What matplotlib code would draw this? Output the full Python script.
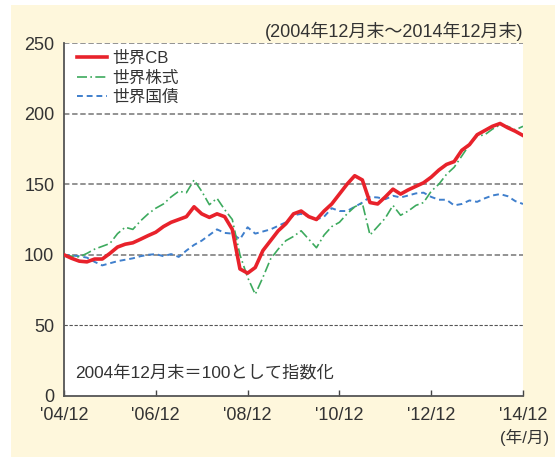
import numpy as np
import matplotlib
matplotlib.use("Agg")
import matplotlib.pyplot as plt
from matplotlib.patches import Rectangle

FONT = ['Liberation Sans', 'Noto Sans CJK JP', 'DejaVu Sans']
plt.rcParams['font.family'] = FONT

# bi-monthly points from Dec 2004 to Dec 2014
start_year = 2004 + 11/12
n_points = 61
series_cb = [100, 97.5, 95.5, 95, 97, 97, 101, 105.5, 107.5, 108.5, 111, 113.6,
             116, 120, 123, 125, 127, 134, 129, 126.5, 129, 127, 118, 90,
             87, 91, 103, 110, 117, 122, 129, 131, 127, 125, 131, 136,
             143, 150, 156, 153, 137, 136, 141, 146.5, 143, 146, 148.5, 151,
             155, 160, 164, 166, 174, 178, 185, 188, 191, 193, 190, 187.5, 184.5]
series_stock = [100, 99, 98.5, 101, 104, 106, 108, 115, 119.5, 118, 124, 129,
                133, 136, 141, 145, 144, 153, 145, 135.5, 140, 132, 125, 100,
                84, 72, 84, 97, 104, 110, 113, 117, 111, 105, 114, 120,
                123, 129, 134, 136.5, 114, 120, 126, 135, 128, 131, 135, 137,
                145, 150, 157, 162, 170, 178, 184, 185, 189, 192, 191, 188.5, 191]
series_bond = [100, 99.5, 99, 98, 95, 92.5, 94, 95.5, 96.5, 97.5, 99, 100,
               100.5, 99, 100.5, 98.5, 103, 107, 110, 114, 118, 115.5, 115, 111,
               119.5, 115, 116.5, 118, 120.5, 123, 128, 129, 127, 125, 127, 133,
               131, 131, 134, 137, 141, 140.6, 139.4, 141.8, 140.6, 142, 143.5, 144,
               141, 139, 139, 135, 136, 138.5, 137.5, 140, 142, 143, 141.5, 138, 136]
legend_labels = ['世界CB', '世界株式', '世界国債']
x_tick_labels = ["'04/12", "'06/12", "'08/12", "'10/12", "'12/12", "'14/12"]
y_ticks = [0, 50, 100, 150, 200, 250]

t = start_year + np.arange(n_points) / 6.0

W, H = 555, 459
TXT = '#333333'
fig = plt.figure(figsize=(W/100, H/100), dpi=100, facecolor='white')
bg = Rectangle((11/W, 2/H), 1 - 11/W, 1 - 7/H,
               transform=fig.transFigure, facecolor='#FEF7DC',
               edgecolor='none', zorder=-10)
fig.add_artist(bg)
ax = fig.add_axes([64/W, 1 - 396/H, (523-64)/W, (396-43)/H])
ax.set_zorder(1)
ax.set_facecolor('white')

for y in y_ticks[1:]:
    ax.axhline(y, color='#8a8a8a' if y != 50 else '#555555',
               lw=1.3 if y != 50 else 0.8, ls=(0, (3, 1.5)), zorder=1)

ax.plot(t, series_bond, color='#3F7FCC', lw=1.4, ls=(0, (3, 2)), zorder=3, label=legend_labels[2])
ax.plot(t, series_stock, color='#3DAA5E', lw=1.2, ls=(0, (6, 2, 1, 2)), zorder=3, label=legend_labels[1])
ax.plot(t, series_cb, color='#E8222B', lw=2.6, zorder=4, label=legend_labels[0])

ax.set_xlim(start_year, start_year + 10)
ax.set_ylim(0, 250)
ax.set_xticks(start_year + 2 * np.arange(6))
ax.set_xticklabels(x_tick_labels, fontsize=13, color=TXT)
ax.set_yticks(y_ticks)
ax.set_yticklabels([str(v) for v in y_ticks], fontsize=13, color=TXT)
ax.tick_params(axis='x', direction='in', length=4, width=1, color='#444444', pad=8)
ax.tick_params(axis='y', length=0, pad=7)
for s in ['top', 'right']:
    ax.spines[s].set_visible(False)
for s in ['left', 'bottom']:
    ax.spines[s].set_color('#555555')
    ax.spines[s].set_linewidth(1.3)

handles, labels = ax.get_legend_handles_labels()
order = [2, 1, 0]
leg = ax.legend([handles[i] for i in order], [labels[i] for i in order],
                loc='upper left', bbox_to_anchor=(-0.005, 1.02), frameon=False,
                fontsize=12, handlelength=1.8, handletextpad=0.35,
                labelspacing=0.25, borderaxespad=0.5)
for txt in leg.get_texts():
    txt.set_color(TXT)

ax.text(0.025, 0.045, '2004年12月末＝100として指数化', transform=ax.transAxes,
        fontsize=12.4, color=TXT, ha='left', va='bottom')
fig.text(523/W, 1 - 31/H, '(2004年12月末～2014年12月末)', fontsize=13,
         color=TXT, ha='right', va='center')
fig.text(549/W, 1 - 437/H, '(年/月)', fontsize=12, color=TXT,
         ha='right', va='center')

fig.savefig('out.png', dpi=100, facecolor=fig.get_facecolor())
